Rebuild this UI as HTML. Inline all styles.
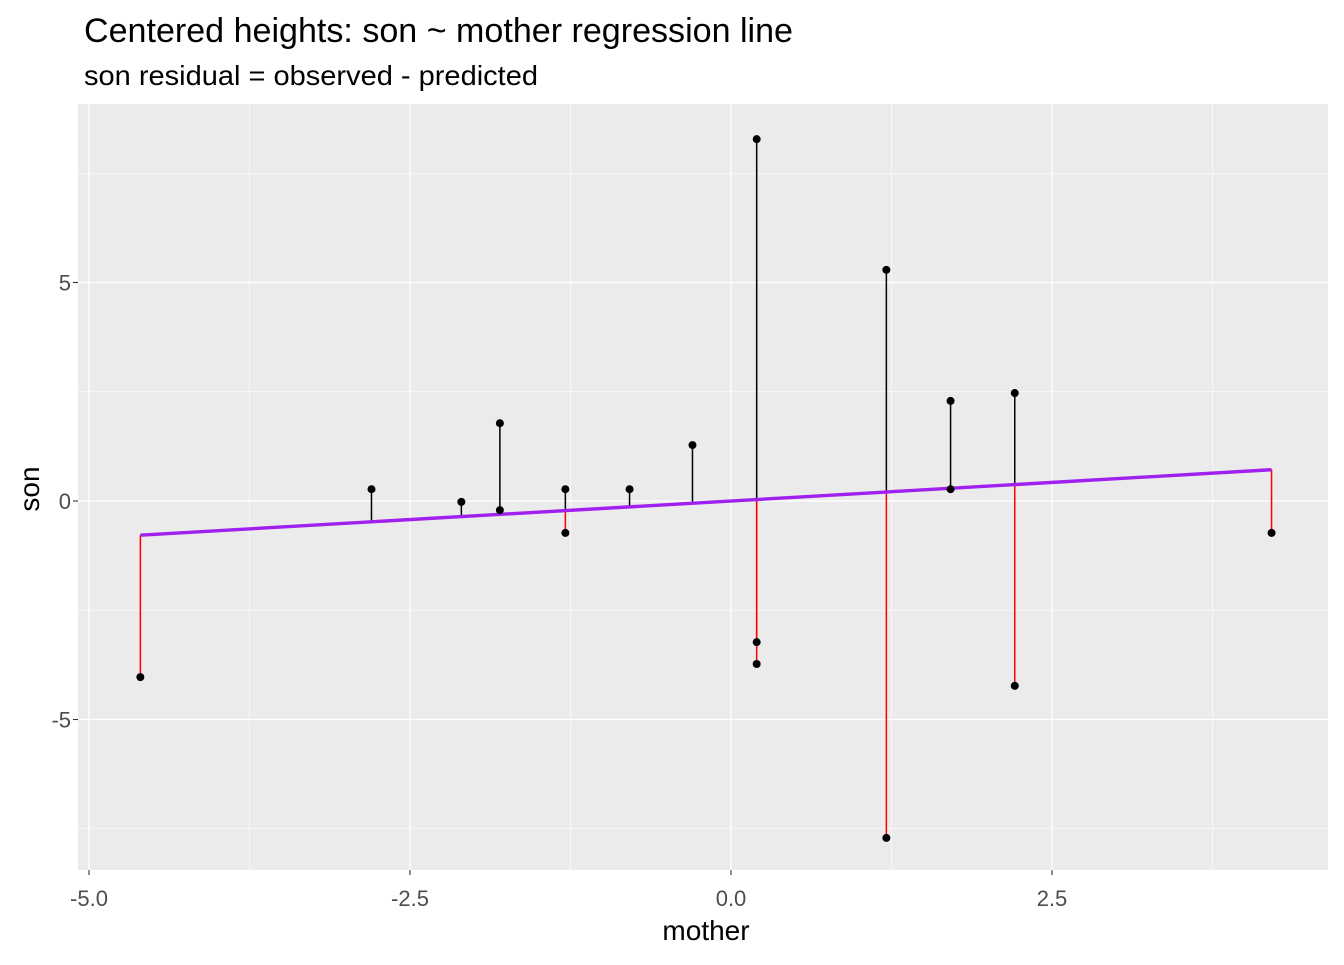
<!DOCTYPE html>
<html><head><meta charset="utf-8"><style>
body{margin:0;background:#fff;font-family:"Liberation Sans",Arial,sans-serif}
</style></head><body>
<svg id="chart" width="1344" height="960" xmlns="http://www.w3.org/2000/svg" font-family="Liberation Sans, Arial, sans-serif">
<rect width="1344" height="960" fill="#fff"/>
<text x="84" y="42" font-size="34" textLength="709" lengthAdjust="spacingAndGlyphs" fill="#000">Centered heights: son ~ mother regression line</text>
<text x="84" y="85" font-size="28" textLength="454" lengthAdjust="spacingAndGlyphs" fill="#000">son residual = observed - predicted</text>
<rect x="78" y="104" width="1250" height="766" fill="#ebebeb"/>
<g id="grid"></g>
<g id="marks"></g>
<g id="axes"></g>
<text x="706" y="940" font-size="28" text-anchor="middle" fill="#000">mother</text>
<text transform="translate(39,489) rotate(-90)" font-size="28" text-anchor="middle" fill="#000">son</text>
</svg>
<script>
const motherVals=[-4.60,-2.80,-2.10,-1.80,-1.80,-1.29,-1.29,-0.79,-0.30,0.20,0.20,0.20,1.21,1.21,1.71,1.71,2.21,2.21,4.21];
const sonVals=[-4.03,0.27,-0.02,1.78,-0.21,0.27,-0.73,0.27,1.28,8.28,-3.23,-3.73,5.29,-7.71,2.29,0.27,2.47,-4.23,-0.73];
const slope=0.17, intercept=0.0;
const xTicks=[-5,-2.5,0,2.5];
const xTickLabels=["-5.0","-2.5","0.0","2.5"];
const xMinor=[-3.75,-1.25,1.25,3.75];
const yTicks=[-5,0,5];
const yTickLabels=["-5","0","5"];
const yMinor=[-7.5,-2.5,2.5,7.5];
const NS="http://www.w3.org/2000/svg";
const X=v=>731+v*128.4, Y=v=>501-v*43.7;
const L=78,R=1328,T=104,B=870;
function mk(p,t,a){const e=document.createElementNS(NS,t);for(const k in a)e.setAttribute(k,a[k]);p.appendChild(e);return e;}
const grid=document.getElementById('grid'),marks=document.getElementById('marks'),axes=document.getElementById('axes');
xMinor.forEach(v=>{const e=mk(grid,'line',{x1:X(v),x2:X(v),y1:T,y2:B,stroke:'#fff','stroke-width':0.6});});
yMinor.forEach(v=>{const e=mk(grid,'line',{x1:L,x2:R,y1:Y(v),y2:Y(v),stroke:'#fff','stroke-width':0.6});});
xTicks.forEach((v,i)=>{const e=mk(grid,'line',{x1:X(v),x2:X(v),y1:T,y2:B,stroke:'#fff','stroke-width':1.3});
const t=mk(axes,'line',{x1:X(v),x2:X(v),y1:B,y2:B+5,stroke:'#333','stroke-width':1.1});
const l=mk(axes,'text',{x:X(v),y:B+36,'font-size':22,'text-anchor':'middle',fill:'#4d4d4d'});l.textContent=xTickLabels[i];});
yTicks.forEach((v,i)=>{const e=mk(grid,'line',{x1:L,x2:R,y1:Y(v),y2:Y(v),stroke:'#fff','stroke-width':1.3});
const t=mk(axes,'line',{x1:L-5,x2:L,y1:Y(v),y2:Y(v),stroke:'#333','stroke-width':1.1});
const l=mk(axes,'text',{x:L-7,y:Y(v)+8,'font-size':22,'text-anchor':'end',fill:'#4d4d4d'});l.textContent=yTickLabels[i];});
const pred=v=>intercept+slope*v;
motherVals.forEach((m,i)=>{const s=sonVals[i],p=pred(m);
const e=mk(marks,'line',{x1:X(m),x2:X(m),y1:Y(s),y2:Y(p),stroke:s>=p?'#000':'#ff0000','stroke-width':1.5});
});
const xmin=Math.min(...motherVals),xmax=Math.max(...motherVals);
const rl=mk(marks,'line',{x1:X(xmin),x2:X(xmax),y1:Y(pred(xmin)),y2:Y(pred(xmax)),stroke:'#a020f0','stroke-width':3.4});

motherVals.forEach((m,i)=>{const c=mk(marks,'circle',{cx:X(m),cy:Y(sonVals[i]),r:4,fill:'#000'});
});
</script>
</body></html>
